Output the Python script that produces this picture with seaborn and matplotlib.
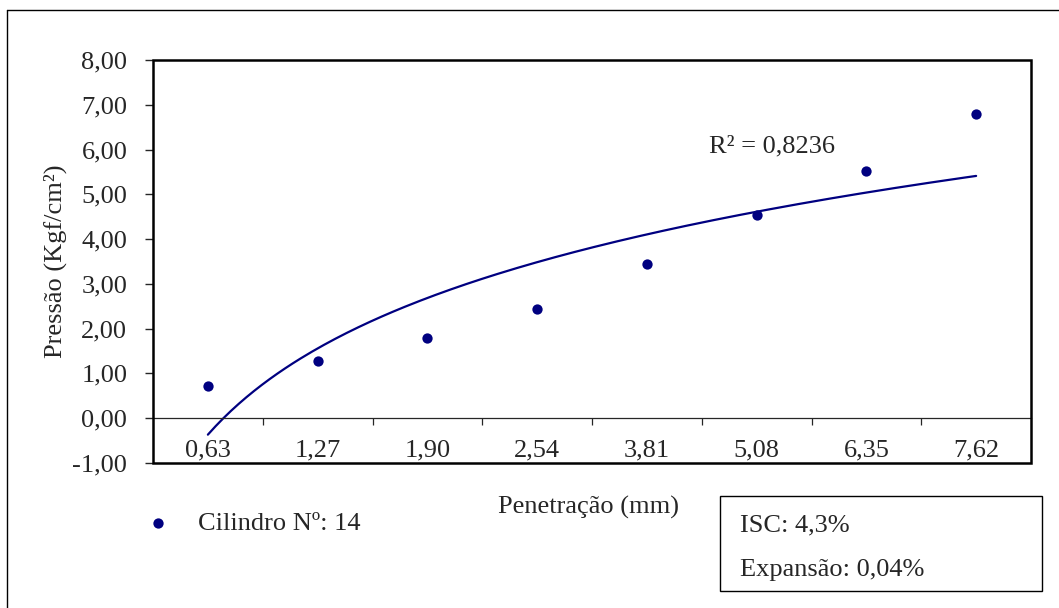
import numpy as np
import pandas as pd
import matplotlib
matplotlib.use("Agg")
import matplotlib.pyplot as plt
import seaborn as sns
from matplotlib.patches import Rectangle
from matplotlib.lines import Line2D

# valores
penetracao = ["0,63", "1,27", "1,90", "2,54", "3,81", "5,08", "6,35", "7,62"]
pressao = [0.72, 1.27, 1.80, 2.44, 3.45, 4.53, 5.52, 6.80]
y_ticks = [-1, 0, 1, 2, 3, 4, 5, 6, 7, 8]
r2_texto = "R² = 0,8236"
legenda = "Cilindro Nº: 14"
isc_texto = "ISC: 4,3%"
expansao_texto = "Expansão: 0,04%"

AZUL = "#000080"
FS = 19

sns.set_style("white")
plt.rcParams["font.family"] = ["Liberation Serif", "DejaVu Serif"]

df = pd.DataFrame({"idx": np.arange(1, len(penetracao) + 1), "pressao": pressao})
df["pos"] = df["idx"] - 0.5

# linha de tendência logarítmica (estilo Excel: y = a ln(x) + b)
a, b = np.polyfit(np.log(df["idx"]), df["pressao"], 1)
xs = np.linspace(1, len(penetracao), 200)
trend = pd.DataFrame({"pos": xs - 0.5, "y": a * np.log(xs) + b})

fig = plt.figure(figsize=(10.59, 6.08), dpi=100)
ax = fig.add_axes([153 / 1059, 1 - 463 / 608, (1031 - 153) / 1059, (463 - 60) / 608])

sns.lineplot(data=trend, x="pos", y="y", color=AZUL, lw=1.6, ax=ax)
sns.scatterplot(data=df, x="pos", y="pressao", color=AZUL, s=55, edgecolor=AZUL,
                linewidth=0, ax=ax, label=legenda, zorder=5)

ax.set_xlim(0, len(penetracao))
ax.set_ylim(-1, 8)
ax.set_xlabel("")
ax.set_ylabel("")

ax.set_yticks(y_ticks)
ax.set_yticklabels([f"{v:.2f}".replace(".", ",") for v in y_ticks], fontsize=FS)
ax.tick_params(axis="y", direction="out", length=6, width=1, pad=12.5, left=True)

# eixo x na linha do zero
ax.spines["bottom"].set_position(("data", 0))
ax.spines["bottom"].set_linewidth(0.9)
for s in ["top", "right", "left"]:
    ax.spines[s].set_visible(False)
ax.set_xticks(np.arange(1, len(penetracao)))
ax.set_xticklabels([])
ax.set_xticks(df["pos"], minor=True)
ax.set_xticklabels(penetracao, minor=True, fontsize=FS)
ax.tick_params(axis="x", which="major", direction="out", length=5, width=0.9, bottom=True)
ax.tick_params(axis="x", which="minor", length=0, pad=15)

ax.add_patch(Rectangle((0, 0), 1, 1, transform=ax.transAxes, fill=False,
                       lw=1.8, edgecolor="black", clip_on=False, zorder=6))

ax.text(5.07, 6.08, r2_texto, fontsize=FS, va="center", ha="left")

fig.text(55 / 1059, 1 - 261 / 608, "Pressão (Kgf/cm²)", rotation=90,
         fontsize=FS, ha="center", va="center")
fig.text(589 / 1059, 1 - 507 / 608, "Penetração (mm)", fontsize=FS,
         ha="center", va="center")

leg = ax.legend(loc="center left", bbox_to_anchor=(145 / 1059, 1 - 523 / 608),
                bbox_transform=fig.transFigure, frameon=False, fontsize=FS,
                handlelength=1.0, handletextpad=1.0, borderpad=0, borderaxespad=0)

# caixa com ISC e expansão
fig.add_artist(Rectangle((720 / 1059, 1 - 591 / 608), 322 / 1059, 95 / 608,
                         transform=fig.transFigure, fill=False, lw=1, edgecolor="black"))
fig.text(740 / 1059, 1 - 525 / 608, isc_texto, fontsize=FS, va="center")
fig.text(740 / 1059, 1 - 570 / 608, expansao_texto, fontsize=FS, va="center")

# moldura externa do gráfico
fig.add_artist(Line2D([7 / 1059, 7 / 1059], [0, 1 - 10 / 608], color="black", lw=1,
                      transform=fig.transFigure))
fig.add_artist(Line2D([7 / 1059, 1], [1 - 10 / 608, 1 - 10 / 608], color="black", lw=1,
                      transform=fig.transFigure))

fig.savefig("out.png", dpi=100)
